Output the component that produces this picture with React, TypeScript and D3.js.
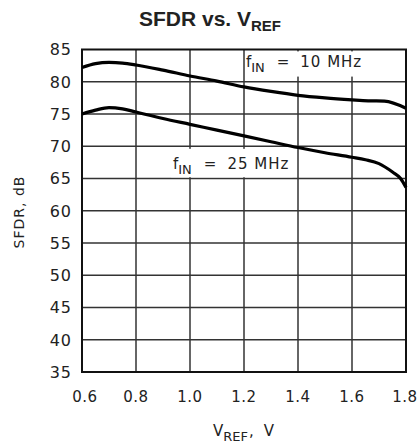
import React from "react";
import * as d3 from "d3";

const vref10 = [0.6, 0.65, 0.7, 0.75, 0.8, 0.9, 1.0, 1.1, 1.2, 1.3, 1.4, 1.5, 1.6, 1.66, 1.72, 1.8];
const sfdr10 = [82.2, 82.8, 83.0, 82.9, 82.6, 81.8, 80.9, 80.1, 79.2, 78.5, 77.9, 77.5, 77.2, 77.05, 77.0, 75.9];
const vref25 = [0.6, 0.65, 0.7, 0.75, 0.8, 0.9, 1.0, 1.1, 1.2, 1.3, 1.4, 1.5, 1.6, 1.65, 1.7, 1.75, 1.78, 1.8];
const sfdr25 = [75.0, 75.6, 76.0, 75.8, 75.3, 74.3, 73.4, 72.5, 71.6, 70.7, 69.8, 69.0, 68.3, 67.9, 67.3, 66.0, 65.0, 63.6];
const xTicks = [0.6, 0.8, 1.0, 1.2, 1.4, 1.6, 1.8];
const yTicks = [35, 40, 45, 50, 55, 60, 65, 70, 75, 80, 85];

const W = 419;
const H = 448;
const left = 82;
const right = 406;
const top = 49.5;
const bottom = 372;
const font = "'DejaVu Sans', sans-serif";

export default function App() {
  const x = d3.scaleLinear().domain([0.6, 1.8]).range([left, right]);
  const y = d3.scaleLinear().domain([35, 85]).range([bottom, top]);
  const line = d3
    .line<[number, number]>()
    .x((d) => x(d[0]))
    .y((d) => y(d[1]))
    .curve(d3.curveMonotoneX);
  const d10 = line(vref10.map((v, i) => [v, sfdr10[i]]) as [number, number][]) || "";
  const d25 = line(vref25.map((v, i) => [v, sfdr25[i]]) as [number, number][]) || "";

  const grid = "#333";
  return (
    <svg
      width={W}
      height={H}
      style={{ position: "absolute", left: 0, top: 0, background: "#fff" }}
    >
      <rect x={0} y={0} width={W} height={H} fill="#fff" />
      <text
        x={(left + right) / 2 - 34}
        y={26}
        textAnchor="middle"
        fontFamily="'Liberation Sans', Arial, sans-serif"
        fontWeight="bold"
        fontSize={21}
        fill="#222"
      >
        SFDR vs. V
        <tspan fontSize={15} dy={5}>REF</tspan>
      </text>
      {/* grid */}
      {xTicks.slice(1, -1).map((t) => (
        <line key={"vx" + t} x1={x(t)} x2={x(t)} y1={top} y2={bottom} stroke={grid} strokeWidth={1.5} />
      ))}
      {yTicks.slice(1, -1).map((t) => (
        <line key={"hy" + t} x1={left} x2={right} y1={y(t)} y2={y(t)} stroke={grid} strokeWidth={1.5} />
      ))}
      {/* label boxes */}
      <rect x={x(1.212)} y={y(84.7)} width={x(1.795) - x(1.212)} height={y(80.8) - y(84.7)} fill="#fff" />
      <rect x={x(0.93)} y={y(69.6)} width={x(1.38) - x(0.93)} height={y(65.2) - y(69.6)} fill="#fff" />
      {/* frame */}
      <rect x={left} y={top} width={right - left} height={bottom - top} fill="none" stroke="#111" strokeWidth={2} />
      {/* curves */}
      <path d={d10} fill="none" stroke="#000" strokeWidth={3.2} strokeLinejoin="round" />
      <path d={d25} fill="none" stroke="#000" strokeWidth={3.2} strokeLinejoin="round" />
      {/* annotations */}
      <text x={x(1.207)} y={y(82.25)} fontFamily={font} fontSize={15} fill="#222">
        f<tspan fontSize={13} dy={5}>IN</tspan>
        <tspan dy={-5} dx={12}>=</tspan>
        <tspan dx={11} letterSpacing={1}>10 MHz</tspan>
      </text>
      <text x={x(0.937)} y={y(66.5)} fontFamily={font} fontSize={15} fill="#222">
        f<tspan fontSize={13} dy={5}>IN</tspan>
        <tspan dy={-5} dx={12}>=</tspan>
        <tspan dx={11} letterSpacing={1}>25 MHz</tspan>
      </text>
      {/* y ticks */}
      {yTicks.map((t) => (
        <text
          key={"yt" + t}
          x={72}
          y={y(t)}
          dy="0.36em"
          textAnchor="end"
          fontFamily={font}
          fontSize={16}
          letterSpacing={1}
          fill="#222"
        >
          {t}
        </text>
      ))}
      {/* x ticks */}
      {xTicks.map((t, i) => (
        <text
          key={"xt" + t}
          x={x(t) + (i === 0 ? 3 : i === xTicks.length - 1 ? -1 : 0)}
          y={402}
          textAnchor="middle"
          fontFamily={font}
          fontSize={15}
          letterSpacing={0.5}
          fill="#222"
        >
          {t.toFixed(1)}
        </text>
      ))}
      {/* axis titles */}
      <text
        transform={`translate(24, 212) rotate(-90)`}
        textAnchor="middle"
        fontFamily={font}
        fontSize={14}
        letterSpacing={1}
        fill="#222"
      >
        SFDR, dB
      </text>
      <text x={213} y={436} fontFamily={font} fontSize={15} fill="#222">
        V<tspan fontSize={13} dy={5}>REF</tspan>
        <tspan dy={-5} dx={1}>,</tspan>
        <tspan dx={10}>V</tspan>
      </text>
    </svg>
  );
}
